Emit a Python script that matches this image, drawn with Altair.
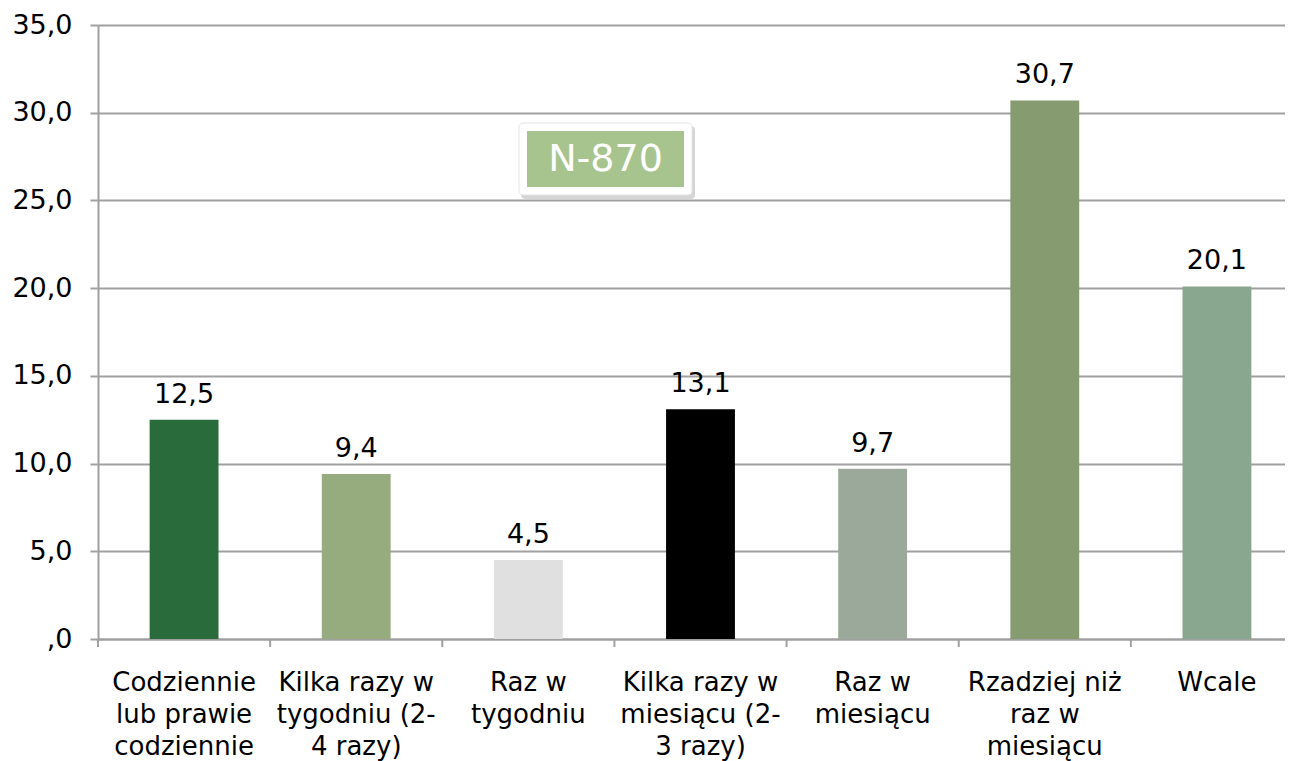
import altair as alt
import pandas as pd

categories = [
    "Codziennie|lub prawie|codziennie",
    "Kilka razy w|tygodniu (2-|4 razy)",
    "Raz w|tygodniu",
    "Kilka razy w|miesiącu (2-|3 razy)",
    "Raz w|miesiącu",
    "Rzadziej niż|raz w|miesiącu",
    "Wcale",
]
values = [12.5, 9.4, 4.5, 13.1, 9.7, 30.7, 20.1]
colors = ["#2A6B3C", "#97AC7E", "#E0E0E0", "#000000", "#9BA99B", "#869B70", "#88A78E"]
y_ticks = [0, 5, 10, 15, 20, 25, 30, 35]
annotation = ["N-870"]

FONT = "DejaVu Sans"
GRID = "#A0A0A0"

df = pd.DataFrame({"cat": categories, "value": values, "color": colors})
df["label"] = [f"{v:.1f}".replace(".", ",") for v in values]

x_axis = alt.Axis(
    title=None, labelAngle=0, labelExpr="split(datum.label, '|')",
    ticks=False, domain=True, domainColor=GRID, domainWidth=2,
    labelFont=FONT, labelFontSize=26, labelColor="black",
    labelPadding=30, labelLineHeight=32, labelLimit=400,
    labelOverlap=False, grid=False,
)
x_scale = alt.Scale(paddingInner=0, paddingOuter=0)

y_enc = alt.Y(
    "value:Q",
    scale=alt.Scale(domain=[0, 35], nice=False),
    axis=alt.Axis(
        values=y_ticks, title=None, grid=True, gridColor=GRID, gridWidth=2,
        domainColor=GRID, domainWidth=2, tickColor=GRID, tickSize=8, tickWidth=2,
        labelExpr="datum.value == 0 ? ',0' : replace(format(datum.value, '.1f'), '.', ',')",
        labelPadding=18, labelFont=FONT, labelFontSize=27, labelColor="black",
    ),
)

base = alt.Chart(df)

bars = base.mark_bar(width=alt.RelativeBandSize(0.4)).encode(
    x=alt.X("cat:N", sort=categories, scale=x_scale, axis=x_axis),
    y=y_enc,
    color=alt.Color("color:N", scale=None),
)

texts = base.mark_text(dy=-17, baseline="alphabetic", font=FONT, fontSize=27, color="black").encode(
    x=alt.X("cat:N", sort=categories, scale=x_scale, axis=x_axis),
    y=alt.Y("value:Q"),
    text="label:N",
)

ticks = base.mark_rule(color=GRID, strokeWidth=2).encode(
    x=alt.X("cat:N", sort=categories, scale=x_scale, axis=x_axis, bandPosition=0),
    y=alt.value(614),
    y2=alt.value(622),
)

ann = alt.Chart(pd.DataFrame({"t": annotation}))
shadow = ann.mark_rect(color="#888888", opacity=0.35, cornerRadius=4).encode(
    x=alt.value(423), x2=alt.value(597), y=alt.value(101), y2=alt.value(174))
box = ann.mark_rect(color="white", cornerRadius=4, stroke="#E4E4E4", strokeWidth=1).encode(
    x=alt.value(421), x2=alt.value(594), y=alt.value(98), y2=alt.value(170))
green = ann.mark_rect(color="#A8C48E").encode(
    x=alt.value(429), x2=alt.value(586), y=alt.value(106), y2=alt.value(162))
ann_text = ann.mark_text(font=FONT, fontSize=38, color="white", baseline="middle", align="center").encode(
    x=alt.value(507.5), y=alt.value(135), text="t:N")

chart = alt.layer(bars, texts, ticks, shadow, box, green, ann_text).properties(
    width=1205, height=614,
    autosize=alt.AutoSizeParams(type="none"),
    padding={"left": 90, "top": 17, "right": -18, "bottom": 122},
).configure_view(stroke=None)

chart.save("out.html", embed_options={"renderer": "svg", "actions": False})
